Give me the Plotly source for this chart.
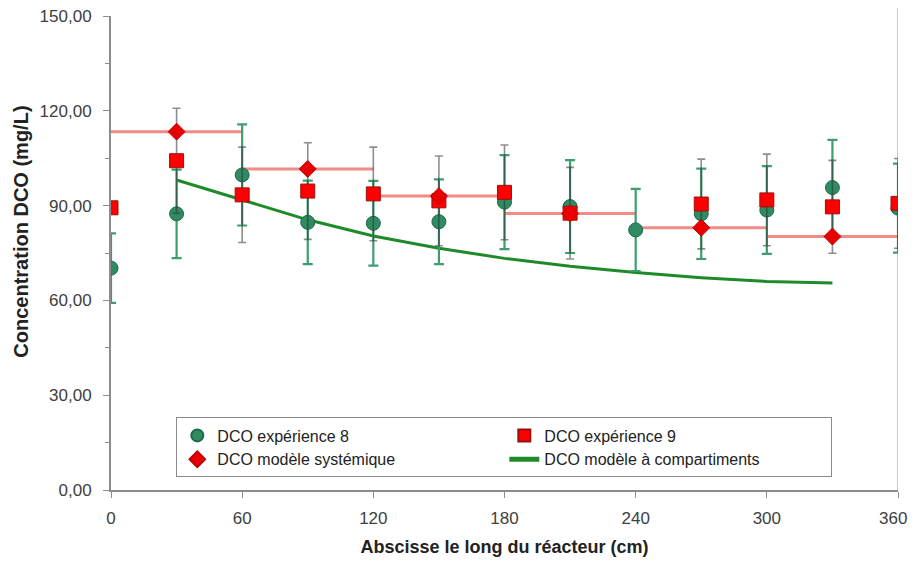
import plotly.graph_objects as go

# ---- data ----
x_pos = [0, 30, 60, 90, 120, 150, 180, 210, 240, 270, 300, 330, 360]

exp8 = [70.2, 87.4, 99.7, 84.7, 84.4, 84.9, 91.1, 89.7, 82.3, 87.4, 88.6, 95.7, 89.2]
exp8_err = [11.0, 14.0, 16.0, 13.2, 13.4, 13.4, 14.9, 14.7, 13.0, 14.3, 13.9, 15.1, 14.1]

exp9 = [89.3, 104.2, 93.4, 94.6, 93.7, 91.5, 94.2, 87.6, None, 90.5, 91.8, 89.6, 90.7]
exp9_err = [0.0, 16.6, 15.1, 15.3, 14.8, 14.2, 15.0, 14.5, 0.0, 14.2, 14.5, 14.7, 14.2]

sys_x = [30, 90, 150, 210, 270, 330]
sys_y = [113.4, 101.6, 93.0, 87.5, 83.0, 80.2]
sys_half_width = 30

comp_x = [30, 60, 90, 120, 150, 180, 210, 240, 270, 300, 330]
comp_y = [98.1, 91.8, 85.5, 80.4, 76.5, 73.3, 70.8, 68.8, 67.2, 66.0, 65.5]

x_ticks = [0, 60, 120, 180, 240, 300, 360]
x_tick_text = ["0", "60", "120", "180", "240", "300", "360\u00a0\u00a0"]
y_ticks = [0, 30, 60, 90, 120, 150]

names = ["DCO expérience 8", "DCO expérience 9",
         "DCO modèle systémique", "DCO modèle à compartiments"]
y_title = "<b>Concentration DCO (mg/L)</b>"
x_title = "<b>Abscisse le long du réacteur (cm)</b>"

# step line built from the systemic model values
step_x, step_y = [], []
for xc, yv in zip(sys_x, sys_y):
    step_x += [xc - sys_half_width, xc + sys_half_width, None]
    step_y += [yv, yv, None]

fig = go.Figure()

fig.add_trace(go.Scatter(
    x=comp_x, y=comp_y, mode="lines", name=names[3], legendrank=4,
    line=dict(color="#1f8a2a", width=3)))

fig.add_trace(go.Scatter(
    x=step_x, y=step_y, mode="lines", showlegend=False, hoverinfo="skip",
    line=dict(color="#f28a86", width=3)))

fig.add_trace(go.Scatter(
    x=x_pos, y=exp8, mode="markers", name=names[0], legendrank=1,
    marker=dict(symbol="circle", size=14, color="#2e8b62",
                line=dict(color="#1d6a48", width=1)),
    error_y=dict(type="data", array=exp8_err, visible=True,
                 color="#3c9e6e", thickness=2.2, width=5)))

fig.add_trace(go.Scatter(
    x=x_pos, y=exp9, mode="markers", name=names[1], legendrank=2,
    marker=dict(symbol="square", size=14, color="#ff0000",
                line=dict(color="#9a1010", width=1)),
    error_y=dict(type="data", array=exp9_err, visible=True,
                 color="rgba(50,50,50,0.55)", thickness=1.6, width=4)))

fig.add_trace(go.Scatter(
    x=sys_x, y=sys_y, mode="markers", name=names[2], legendrank=3,
    marker=dict(symbol="diamond", size=13, color="#e80000",
                line=dict(color="#c00000", width=1))))

fig.add_shape(type="line", xref="x", yref="paper", x0=360, x1=360, y0=0, y1=1.03,
              line=dict(color="#c8c8c8", width=2), layer="below")

fig.add_annotation(
    text=y_title, xref="paper", yref="paper", x=0, y=0.545,
    xshift=-90, xanchor="center", yanchor="middle", textangle=-90,
    showarrow=False, font=dict(size=20, color="#222222"))

fig.update_layout(
    width=900, height=549,
    margin=dict(l=103, r=10, t=8, b=67, autoexpand=False),
    paper_bgcolor="white", plot_bgcolor="white",
    separators=", ",
    font=dict(family="Liberation Sans, Arial, sans-serif", size=17, color="#404040"),
    showlegend=True,
    legend=dict(
        orientation="h", x=0.083, y=0.153, xanchor="left", yanchor="top",
        entrywidth=282, entrywidthmode="pixels",
        bgcolor="white", bordercolor="#8a8a8a", borderwidth=1,
        font=dict(size=16, color="#222222"), tracegroupgap=0,
        itemsizing="constant"),
    xaxis=dict(
        range=[0, 360], tickvals=x_ticks, ticktext=x_tick_text,
        automargin=False, ticklabeloverflow="allow",
        showgrid=False, zeroline=False, showline=True, linecolor="#8c8c8c", linewidth=2,
        ticks="outside", ticklen=6, tickcolor="#8c8c8c", ticklabelstandoff=6,
        tickfont=dict(size=17, color="#404040"),
        title=dict(text=x_title, standoff=18,
                   font=dict(size=18, color="#222222"))),
    yaxis=dict(
        range=[0, 150], tickvals=y_ticks, tickformat=".2f",
        automargin=False, ticklabeloverflow="allow",
        showgrid=False, zeroline=False, showline=True, linecolor="#8c8c8c", linewidth=2,
        ticks="outside", ticklen=6, tickcolor="#8c8c8c", ticklabelstandoff=8,
        minor=dict(dtick=15, tick0=0, ticks="outside", ticklen=4, tickcolor="#8c8c8c"),
        tickfont=dict(size=17, color="#404040")),
)

fig.write_html("out.html")
